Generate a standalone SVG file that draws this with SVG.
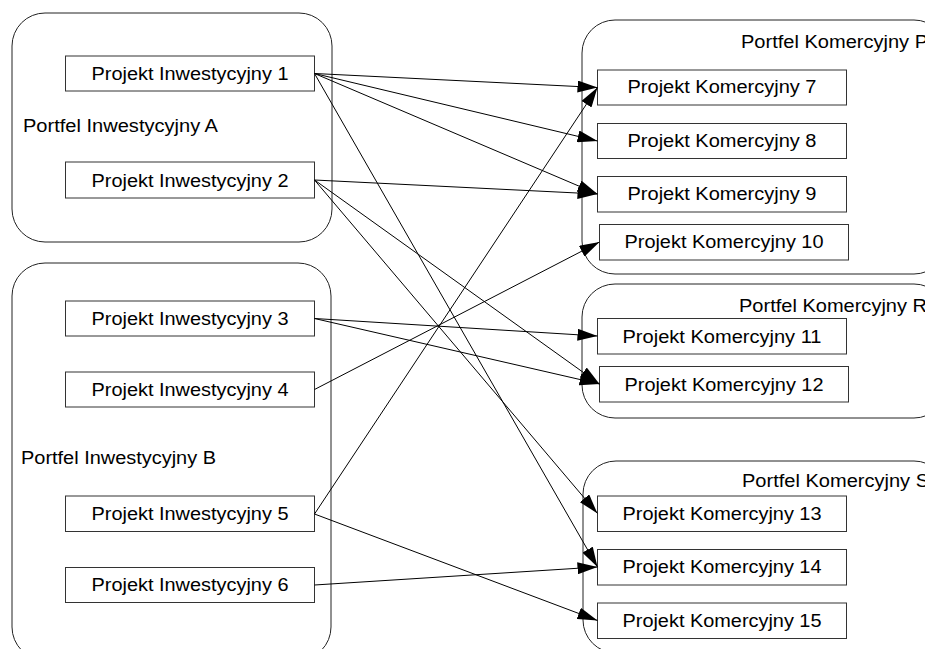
<svg xmlns="http://www.w3.org/2000/svg" width="925" height="649" viewBox="0 0 925 649">
<defs>
<style>
.cont{fill:#fff;stroke:#222;stroke-width:1}
.box{fill:#fff;stroke:#333;stroke-width:1}
text{font-family:"Liberation Sans",Arial,sans-serif;font-size:17.5px;fill:#000}
.c{text-anchor:middle}
.con line{stroke:#000;stroke-width:1;marker-end:url(#ah)}
</style>
<marker id="ah" markerUnits="userSpaceOnUse" markerWidth="20" markerHeight="12" refX="20" refY="6" orient="auto">
<path d="M0,0 L20,6 L0,12 z" fill="#000"/>
</marker>
</defs>
<rect width="925" height="649" fill="#fff"/>
<g id="portfel-a"><rect class="cont" x="12" y="13" width="320" height="229" rx="33" ry="33"/><text x="23" y="132" textLength="195" lengthAdjust="spacingAndGlyphs">Portfel Inwestycyjny A</text></g>
<g id="portfel-b"><rect class="cont" x="12" y="263" width="319" height="397" rx="33" ry="33"/><text x="21" y="464" textLength="195" lengthAdjust="spacingAndGlyphs">Portfel Inwestycyjny B</text></g>
<g id="portfel-p"><rect class="cont" x="582" y="20" width="365" height="254" rx="33" ry="33"/><text x="741" y="48" textLength="187" lengthAdjust="spacingAndGlyphs">Portfel Komercyjny P</text></g>
<g id="portfel-r"><rect class="cont" x="582" y="284" width="365" height="134" rx="33" ry="33"/><text x="739" y="312" textLength="188" lengthAdjust="spacingAndGlyphs">Portfel Komercyjny R</text></g>
<g id="portfel-s"><rect class="cont" x="583" y="461" width="364" height="192" rx="33" ry="33"/><text x="742" y="487" textLength="187" lengthAdjust="spacingAndGlyphs">Portfel Komercyjny S</text></g>

<g id="pi1"><rect class="box" x="65.5" y="56" width="249" height="35"/><text class="c" x="190" y="80" textLength="197" lengthAdjust="spacingAndGlyphs">Projekt Inwestycyjny 1</text></g>
<g id="pi2"><rect class="box" x="65.5" y="162" width="249" height="36"/><text class="c" x="190" y="186.5" textLength="197" lengthAdjust="spacingAndGlyphs">Projekt Inwestycyjny 2</text></g>
<g id="pi3"><rect class="box" x="65.5" y="301" width="249" height="35"/><text class="c" x="190" y="325" textLength="197" lengthAdjust="spacingAndGlyphs">Projekt Inwestycyjny 3</text></g>
<g id="pi4"><rect class="box" x="65.5" y="372" width="249" height="35"/><text class="c" x="190" y="395.5" textLength="197" lengthAdjust="spacingAndGlyphs">Projekt Inwestycyjny 4</text></g>
<g id="pi5"><rect class="box" x="65.5" y="496" width="249" height="35.5"/><text class="c" x="190" y="520" textLength="197" lengthAdjust="spacingAndGlyphs">Projekt Inwestycyjny 5</text></g>
<g id="pi6"><rect class="box" x="65.5" y="567.5" width="249" height="35"/><text class="c" x="190" y="591" textLength="197" lengthAdjust="spacingAndGlyphs">Projekt Inwestycyjny 6</text></g>

<g id="pk7"><rect class="box" x="597.5" y="70" width="249" height="35"/><text class="c" x="722" y="93.3" textLength="189" lengthAdjust="spacingAndGlyphs">Projekt Komercyjny 7</text></g>
<g id="pk8"><rect class="box" x="597.5" y="123.5" width="249" height="35"/><text class="c" x="722" y="146.7" textLength="189" lengthAdjust="spacingAndGlyphs">Projekt Komercyjny 8</text></g>
<g id="pk9"><rect class="box" x="597.5" y="176.5" width="249" height="35.5"/><text class="c" x="722" y="200" textLength="189" lengthAdjust="spacingAndGlyphs">Projekt Komercyjny 9</text></g>
<g id="pk10"><rect class="box" x="599.5" y="224.5" width="249" height="35.5"/><text class="c" x="724" y="248.3" textLength="199" lengthAdjust="spacingAndGlyphs">Projekt Komercyjny 10</text></g>
<g id="pk11"><rect class="box" x="597.5" y="318.5" width="249" height="35.5"/><text class="c" x="722" y="343.3" textLength="199" lengthAdjust="spacingAndGlyphs">Projekt Komercyjny 11</text></g>
<g id="pk12"><rect class="box" x="599.5" y="366.5" width="249" height="35.5"/><text class="c" x="724" y="391" textLength="199" lengthAdjust="spacingAndGlyphs">Projekt Komercyjny 12</text></g>
<g id="pk13"><rect class="box" x="597.5" y="496" width="249" height="35.5"/><text class="c" x="722" y="520" textLength="199" lengthAdjust="spacingAndGlyphs">Projekt Komercyjny 13</text></g>
<g id="pk14"><rect class="box" x="597.5" y="549.5" width="249" height="35.5"/><text class="c" x="722" y="573.3" textLength="199" lengthAdjust="spacingAndGlyphs">Projekt Komercyjny 14</text></g>
<g id="pk15"><rect class="box" x="597.5" y="603" width="249" height="35.5"/><text class="c" x="722" y="626.7" textLength="199" lengthAdjust="spacingAndGlyphs">Projekt Komercyjny 15</text></g>

<g id="connectors" class="con">
<line x1="314.5" y1="73.5" x2="597.5" y2="87.5"/>
<line x1="314.5" y1="73.5" x2="597.5" y2="141"/>
<line x1="314.5" y1="73.5" x2="597.5" y2="194"/>
<line x1="314.5" y1="73.5" x2="597.5" y2="567"/>
<line x1="314.5" y1="180" x2="597.5" y2="194"/>
<line x1="314.5" y1="180" x2="599.5" y2="384"/>
<line x1="314.5" y1="180" x2="597.5" y2="513.5"/>
<line x1="314.5" y1="318.5" x2="597.5" y2="336"/>
<line x1="314.5" y1="318.5" x2="599.5" y2="384"/>
<line x1="314.5" y1="389.5" x2="599.5" y2="242"/>
<line x1="314.5" y1="514" x2="597.5" y2="87.5"/>
<line x1="314.5" y1="514" x2="597.5" y2="620.5"/>
<line x1="314.5" y1="585" x2="597.5" y2="567"/>
</g>
</svg>
